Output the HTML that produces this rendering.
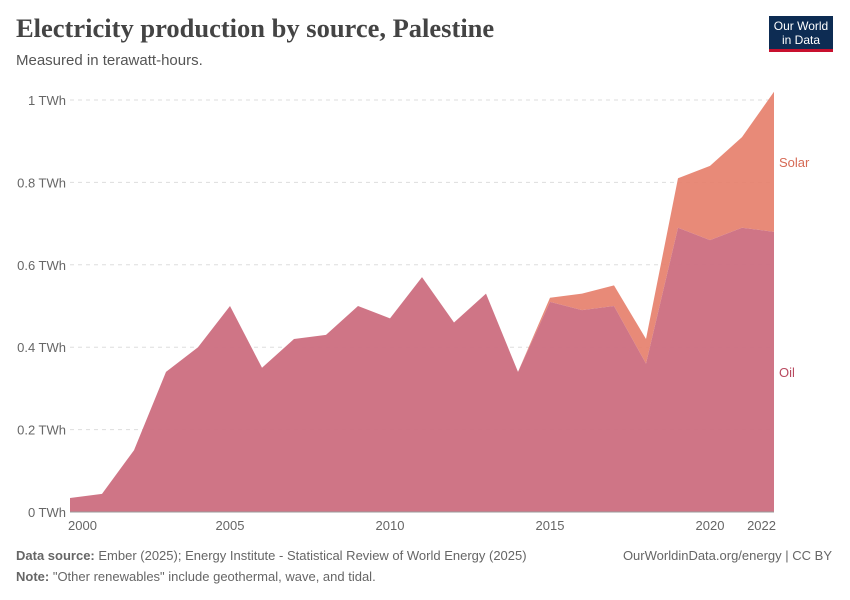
<!DOCTYPE html>
<html><head><meta charset="utf-8"><style>
body{margin:0;width:850px;height:600px;background:#fff;font-family:"Liberation Sans",sans-serif;overflow:hidden}
.t{position:absolute;left:16px;top:13px;font-family:"Liberation Serif",serif;font-size:26.5px;font-weight:bold;color:#444}
.s{position:absolute;left:16px;top:52px;font-size:15px;color:#555}
.logo{position:absolute;left:769px;top:16px;width:64px;height:36px;background:#0d2c53;border-bottom:3px solid #c8102e;color:#fff;font-size:12px;text-align:center;line-height:14px;padding-top:3px;box-sizing:border-box}
.f{position:absolute;font-size:13px;color:#666}
</style></head><body>
<div class="t">Electricity production by source, Palestine</div>
<div class="s">Measured in terawatt-hours.</div>
<div class="logo">Our World<br>in Data</div>
<svg id="c" width="850" height="600" style="position:absolute;left:0;top:0"></svg>
<div class="f" style="left:16px;top:548px"><b>Data source:</b> Ember (2025); Energy Institute - Statistical Review of World Energy (2025)</div>
<div class="f" style="right:18px;top:548px">OurWorldinData.org/energy | CC BY</div>
<div class="f" style="left:16px;top:569px"><b>Note:</b> "Other renewables" include geothermal, wave, and tidal.</div>
<script>
const years=[2000,2001,2002,2003,2004,2005,2006,2007,2008,2009,2010,2011,2012,2013,2014,2015,2016,2017,2018,2019,2020,2021,2022];
const oil=[0.034,0.044,0.15,0.34,0.40,0.50,0.35,0.42,0.43,0.50,0.47,0.57,0.46,0.53,0.34,0.51,0.49,0.50,0.36,0.69,0.66,0.69,0.68];
const solar=[0,0,0,0,0,0,0,0,0,0,0,0,0,0,0,0.01,0.04,0.05,0.06,0.12,0.18,0.22,0.34];
const yTicks=[0,0.2,0.4,0.6,0.8,1];
const yLabels=["0 TWh","0.2 TWh","0.4 TWh","0.6 TWh","0.8 TWh","1 TWh"];
const xTicks=[2000,2005,2010,2015,2020,2022];
const svg=document.getElementById('c'),NS="http://www.w3.org/2000/svg";
const X=y=>70+(y-2000)*32, Y=v=>512-v*412;
function mk(t,a){const e=document.createElementNS(NS,t);for(const k in a)e.setAttribute(k,a[k]);svg.appendChild(e);return e;}
yTicks.forEach((v,i)=>{
 if(v>0){const l=mk('line',{x1:70,x2:774,y1:Y(v),y2:Y(v),stroke:'#ddd','stroke-dasharray':'4,4'});
 
 }
 const t=mk('text',{x:66,y:Y(v)+5,'text-anchor':'end','font-size':13,fill:'#666'});t.textContent=yLabels[i];
 
 
});
const tot=oil.map((o,i)=>o+solar[i]);
let ps=years.map((y,i)=>X(y)+','+Y(tot[i])).join(' ')+' '+years.slice().reverse().map((y,j)=>X(y)+','+Y(oil[oil.length-1-j])).join(' ');
const sa=mk('polygon',{points:ps,fill:'#e6806d',opacity:0.92});


let po=years.map((y,i)=>X(y)+','+Y(oil[i])).join(' ')+' '+X(2022)+','+Y(0)+' '+X(2000)+','+Y(0);
const oa=mk('polygon',{points:po,fill:'#cc6e7f',opacity:0.95});


const ax=mk('line',{x1:70,x2:774,y1:512,y2:512,stroke:'#999'});


xTicks.forEach(y=>{
 const t=mk('text',{x:X(y),y:530,'text-anchor':y==2000?'start':(y==2022?'end':'middle'),'font-size':13,fill:'#666'});t.textContent=y;
 if(y==2000)t.setAttribute('x',X(y)-2); if(y==2022)t.setAttribute('x',X(y)+2);
 
 
});
const n=years.length-1;
const ls=mk('text',{x:779,y:(Y(tot[n])+Y(oil[n]))/2+5,'font-size':13,fill:'#d66a55'});ls.textContent='Solar';


const lo=mk('text',{x:779,y:Y(oil[n]/2)+5,'font-size':13,fill:'#b8495f'});lo.textContent='Oil';


</script>
</body></html>
